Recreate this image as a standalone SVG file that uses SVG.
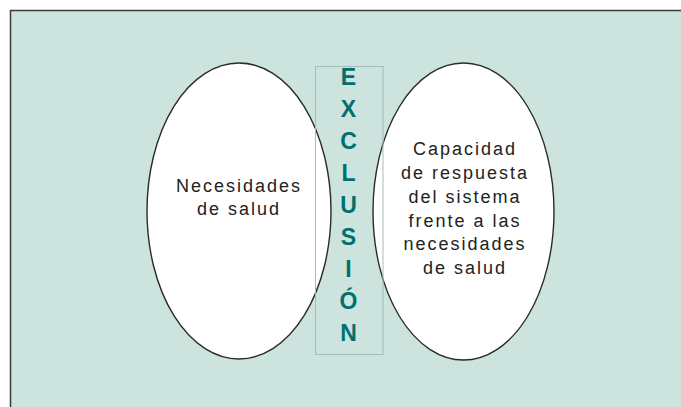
<svg xmlns="http://www.w3.org/2000/svg" width="681" height="407" viewBox="0 0 681 407">
<style>
.ell{fill:#ffffff;stroke:#2a2a2a;stroke-width:1.4}
.lbl{font-family:"Liberation Sans",Arial,sans-serif;font-size:18px;fill:#222222;text-anchor:middle;letter-spacing:2px}
.ex{font-family:"Liberation Sans",Arial,sans-serif;font-size:23px;font-weight:bold;fill:#00706f;text-anchor:middle}
</style>
<rect x="0" y="0" width="681" height="407" fill="#ffffff"/>
<rect id="panel" x="10.5" y="10.5" width="690" height="420" fill="#cde3dd" stroke="#3a3a3a" stroke-width="1.5"/>
<g id="necesidades">
<ellipse class="ell" cx="239" cy="211" rx="92" ry="148"/>
<text class="lbl" x="239" y="192">Necesidades</text>
<text class="lbl" x="239" y="215">de salud</text>
</g>
<g id="capacidad">
<ellipse class="ell" cx="463.5" cy="211.5" rx="90.5" ry="148.5"/>
<text class="lbl" x="465" y="155">Capacidad</text>
<text class="lbl" x="465" y="179">de respuesta</text>
<text class="lbl" x="465" y="203">del sistema</text>
<text class="lbl" x="465" y="227">frente a las</text>
<text class="lbl" x="465" y="250">necesidades</text>
<text class="lbl" x="465" y="274">de salud</text>
</g>
<g id="exclusion">
<rect x="315.5" y="66.5" width="67.5" height="288" fill="none" stroke="#a6bdb7" stroke-width="1"/>
<text class="ex" x="348.5" y="85">E</text>
<text class="ex" x="348.5" y="117">X</text>
<text class="ex" x="348.5" y="149">C</text>
<text class="ex" x="348.5" y="181">L</text>
<text class="ex" x="348.5" y="213">U</text>
<text class="ex" x="348.5" y="245">S</text>
<text class="ex" x="348.5" y="277">I</text>
<text class="ex" x="348.5" y="309">Ó</text>
<text class="ex" x="348.5" y="341">N</text>
</g>
<g id="connectors"></g>
</svg>
